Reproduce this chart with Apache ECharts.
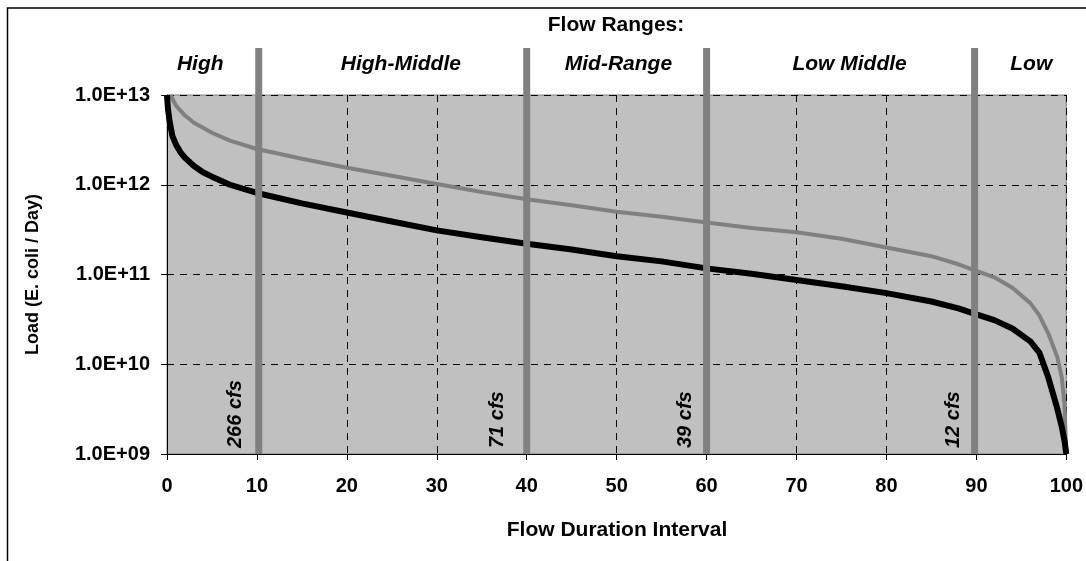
<!DOCTYPE html>
<html><head><meta charset="utf-8">
<script src="https://cdn.jsdelivr.net/npm/echarts@6/dist/echarts.min.js"></script>
<style>html,body{margin:0;padding:0;background:#fff}#c{width:1086px;height:561px}</style>
</head><body><div id="c"></div>
<script>
// Flow duration interval (%) and loads (E. coli / day)
const blackX = [0,0.1,0.3,0.6,1,1.5,2,3,4,5,7,10,15,20,25,30,35,40,45,50,55,60,65,70,75,80,85,88,90,92,94,96,97,98,99,99.5,99.8,100];
const blackY = [1.0e13,7.1e12,5.0e12,3.5e12,2.8e12,2.3e12,2.0e12,1.62e12,1.38e12,1.23e12,1.0e12,8.1e11,
  6.2e11,4.9e11,3.9e11,3.1e11,2.6e11,2.2e11,1.9e11,1.6e11,1.4e11,1.17e11,1.02e11,8.7e10,7.4e10,6.2e10,5.0e10,
  4.2e10,3.6e10,3.1e10,2.5e10,1.8e10,1.35e10,7.1e9,3.2e9,2.0e9,1.4e9,1.0e9];
const grayX = [0.4,1,2,3,5,7,10,15,20,25,30,35,40,45,50,55,60,65,70,75,80,85,88,90,92,94,96,97,98,99,99.5,99.8,100];
const grayY = [1.0e13,7.6e12,5.9e12,4.9e12,3.8e12,3.1e12,2.5e12,1.95e12,1.55e12,1.26e12,1.02e12,8.3e11,6.9e11,5.9e11,
  5.0e11,4.4e11,3.8e11,3.3e11,2.95e11,2.5e11,2.0e11,1.6e11,1.3e11,1.1e11,9.3e10,7.1e10,4.8e10,3.5e10,2.2e10,1.2e10,7.1e9,3.5e9,1.0e9];
// Flow range boundaries and labels
const boundaryX = [10.2, 40, 60, 89.8];
const cfsLabels = ['266 cfs', '71 cfs', '39 cfs', '12 cfs'];
const cfsX = [7.6, 36.7, 57.7, 87.5];
const rangeNames = ['High', 'High-Middle', 'Mid-Range', 'Low Middle', 'Low'];
const rangeX = [3.7, 26, 50.2, 75.9, 96.1];
const yTicks = ['1.0E+09','1.0E+10','1.0E+11','1.0E+12','1.0E+13'];

const FONT = '"Liberation Sans", Arial, sans-serif';
const chart = echarts.init(document.getElementById('c'));
const zip = (a, b) => a.map((v, i) => [v, b[i]]);

chart.setOption({
  animation: false,
  backgroundColor: '#ffffff',
  grid: { left: 167, right: 18, top: 95, bottom: 107, show: true, backgroundColor: '#c0c0c0', borderColor: '#808080', borderWidth: 1 },
  xAxis: {
    type: 'value', min: 0, max: 100, interval: 10,
    axisLine: { show: true, lineStyle: { color: '#000', width: 1 } },
    axisTick: { show: true, length: 6, lineStyle: { color: '#000' } },
    axisLabel: { color: '#000', fontFamily: FONT, fontWeight: 'bold', fontSize: 20, margin: 22 },
    splitLine: { show: true, lineStyle: { color: '#000', type: [7, 6], width: 1 } }
  },
  yAxis: {
    type: 'log', logBase: 10, min: 1e9, max: 1e13,
    name: 'Load (E. coli / Day)', nameLocation: 'middle', nameGap: 125,
    nameTextStyle: { color: '#000', fontFamily: FONT, fontWeight: 'bold', fontSize: 18 },
    axisLine: { show: true, lineStyle: { color: '#000', width: 1 } },
    axisTick: { show: true, length: 6, lineStyle: { color: '#000' } },
    axisLabel: { color: '#000', fontFamily: FONT, fontWeight: 'bold', fontSize: 20, margin: 17,
      formatter: v => yTicks[Math.round(Math.log10(v)) - 9] },
    splitLine: { show: true, lineStyle: { color: '#000', type: [7, 6], width: 1 } },
    minorTick: { show: false }
  },
  graphic: [
    { type: 'rect', silent: true, z: -1, shape: { x: 7.5, y: 8, width: 1100, height: 600 }, style: { fill: 'none', stroke: '#000', lineWidth: 1.5 } },
    { type: 'text', x: 616, y: 25, style: { text: 'Flow Ranges:', fill: '#000', font: 'bold 21px ' + FONT, textAlign: 'center', textVerticalAlign: 'middle' } },
    { type: 'text', x: 617, y: 530, style: { text: 'Flow Duration Interval', fill: '#000', font: 'bold 21px ' + FONT, textAlign: 'center', textVerticalAlign: 'middle' } }
  ],
  series: [
    { type: 'line', data: zip(grayX, grayY), showSymbol: false, smooth: false, lineStyle: { color: '#808080', width: 4, join: 'round' }, z: 3 },
    { type: 'line', data: zip(blackX, blackY), showSymbol: false, smooth: false, lineStyle: { color: '#000', width: 6, join: 'round' }, z: 4 },
    { type: 'custom', z: 5, clip: false, data: boundaryX.map(x => [x]),
      renderItem: (params, api) => {
        const x = api.value(0);
        const bottom = api.coord([x, 1e9]);
        const top = api.coord([x, 1e13]);
        return { type: 'rect', shape: { x: bottom[0] - 3.5, y: top[1] - 47, width: 7, height: bottom[1] - top[1] + 47 }, style: { fill: '#808080' } };
      } },
    { type: 'custom', z: 6, clip: false, data: rangeX.map((x, i) => [x, i]),
      renderItem: (params, api) => {
        const p = api.coord([api.value(0), 1e13]);
        return { type: 'text', x: p[0], y: p[1] - 31, style: { text: rangeNames[api.value(1)], fill: '#000', font: 'italic bold 21px ' + FONT, textAlign: 'center', textVerticalAlign: 'middle' } };
      } },
    { type: 'custom', z: 6, clip: false, data: cfsX.map((x, i) => [x, i]),
      renderItem: (params, api) => {
        const p = api.coord([api.value(0), 1e9]);
        return { type: 'text', x: p[0], y: p[1] - 6, rotation: Math.PI / 2, style: { text: cfsLabels[api.value(1)], fill: '#000', font: 'italic bold 20px ' + FONT, textAlign: 'left', textVerticalAlign: 'middle' } };
      } }
  ]
});
</script></body></html>
